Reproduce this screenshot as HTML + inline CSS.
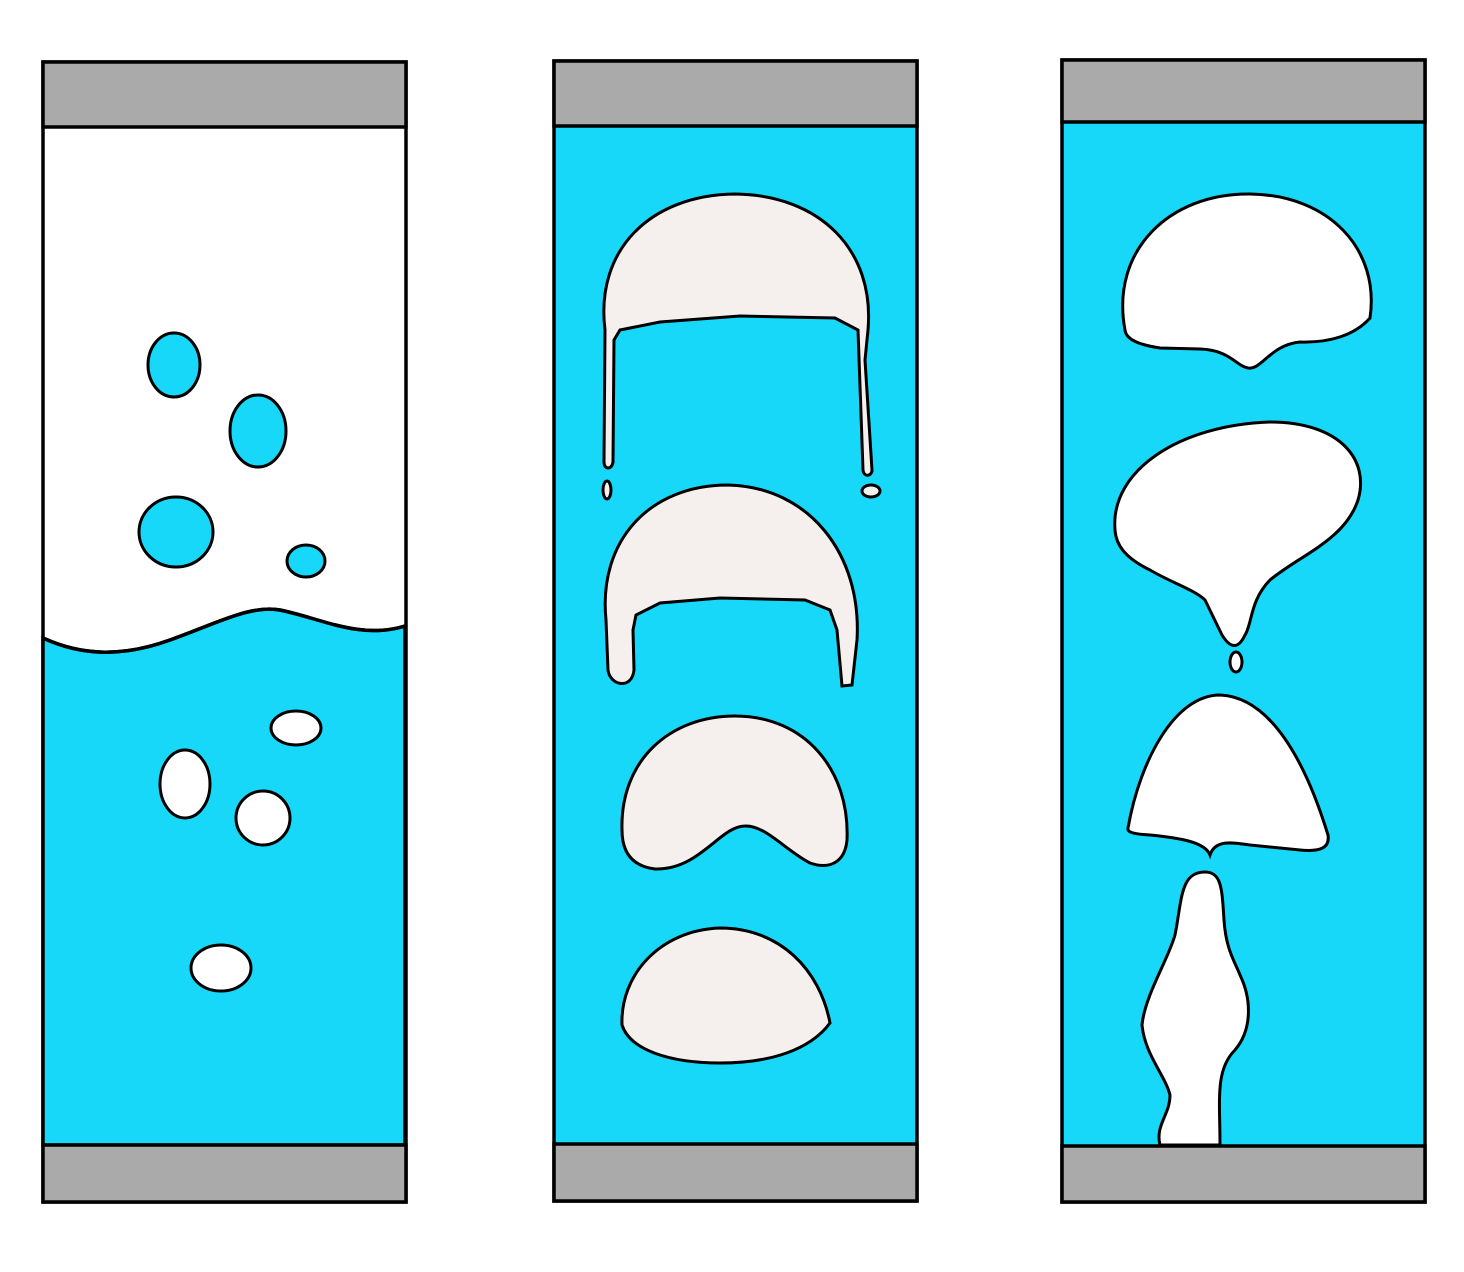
<!DOCTYPE html>
<html><head><meta charset="utf-8"><style>html,body{margin:0;padding:0;background:#fff}svg{display:block}</style></head>
<body>
<svg width="1464" height="1272" viewBox="0 0 1464 1272">
<g stroke="#000" stroke-width="3.5">
 <rect x="43" y="62" width="363" height="1140" fill="#fff"/>
 <path d="M43 638 C80 655 120 658 170 640 C220 622 250 605 280 610 C320 618 360 640 405 626 L405 1145 L43 1145 Z" fill="#18D8FA"/>
 <path d="M43 638 C80 655 120 658 170 640 C220 622 250 605 280 610 C320 618 360 640 405 626" fill="none"/>
 <rect x="43" y="62" width="363" height="65" fill="#aaa"/>
 <rect x="43" y="1145" width="363" height="57" fill="#aaa"/>
 <g fill="#18D8FA" stroke-width="3">
  <ellipse cx="174" cy="365" rx="26" ry="32"/>
  <ellipse cx="258" cy="431" rx="28" ry="36"/>
  <ellipse cx="176" cy="532" rx="37" ry="35"/>
  <ellipse cx="306" cy="561" rx="19" ry="16"/>
 </g>
 <g fill="#fff" stroke-width="3">
  <ellipse cx="296" cy="728" rx="25" ry="17"/>
  <ellipse cx="185" cy="784" rx="25" ry="34"/>
  <ellipse cx="263" cy="818" rx="27" ry="27"/>
  <ellipse cx="221" cy="968" rx="30" ry="23"/>
 </g>
</g>
<g stroke="#000" stroke-width="3.5">
 <rect x="554" y="61" width="363" height="1140" fill="#18D8FA"/>
 <rect x="554" y="61" width="363" height="65" fill="#aaa"/>
 <rect x="554" y="1144" width="363" height="57" fill="#aaa"/>
 <g fill="#F5F0EE" stroke-width="3">
  <path d="M605 330 C595 250 650 195 735 194 C820 195 875 250 868 330 L865 360 L872 470 C872 476 864 478 863 470 L858 330 L835 318 L740 316 L660 322 L620 330 L614 340 L613 462 C612 470 604 470 604 462 Z"/>
  <ellipse cx="607" cy="490" rx="4" ry="9"/>
  <ellipse cx="871" cy="491" rx="9" ry="6"/>
  <path d="M606 620 C598 540 650 485 728 485 C810 487 862 555 857 640 L852 685 L842 686 L837 630 L830 610 L805 600 L720 598 L660 603 L636 615 L633 630 L634 670 C632 690 610 686 608 670 Z"/>
  <path d="M622 830 C620 760 670 716 735 716 C805 716 850 770 847 840 C845 862 830 870 810 863 C785 850 765 825 745 826 C720 826 700 870 655 869 C630 866 622 850 622 830 Z"/>
  <path d="M622 1025 C620 975 660 930 720 928 C780 928 820 970 830 1023 C810 1050 770 1063 720 1063 C670 1063 630 1050 622 1025 Z"/>
 </g>
</g>
<g stroke="#000" stroke-width="3.5">
 <rect x="1062" y="60" width="363" height="1142" fill="#18D8FA"/>
 <rect x="1062" y="60" width="363" height="62" fill="#aaa"/>
 <rect x="1062" y="1146" width="363" height="56" fill="#aaa"/>
 <g fill="#fff" stroke-width="3">
  <path d="M1125 330 C1110 250 1170 193 1250 194 C1330 195 1380 250 1370 318 C1355 335 1330 343 1300 342 C1270 345 1262 370 1248 368 C1236 366 1230 350 1200 349 L1160 348 C1140 345 1126 340 1125 330 Z"/>
  <path d="M1115 530 C1110 470 1180 425 1270 422 C1340 422 1370 460 1358 500 C1345 540 1300 555 1270 580 C1250 600 1252 625 1245 635 C1238 650 1230 648 1222 635 L1205 600 C1195 590 1170 582 1150 570 C1125 558 1116 545 1115 530 Z"/>
  <ellipse cx="1236" cy="662" rx="6" ry="10"/>
  <path d="M1128 828 C1140 760 1175 695 1220 695 C1270 697 1305 760 1328 835 C1330 848 1320 852 1300 850 L1250 845 C1230 842 1215 840 1210 855 C1205 842 1180 838 1150 835 C1132 834 1127 832 1128 828 Z"/>
  <path d="M1160 1145 C1155 1125 1170 1115 1170 1095 C1165 1075 1145 1055 1142 1025 C1145 995 1168 960 1175 935 C1182 900 1180 872 1205 872 C1222 872 1222 890 1224 920 C1226 950 1235 962 1240 975 C1252 1000 1252 1030 1235 1050 C1215 1070 1220 1100 1220 1145 Z"/>
 </g>
</g>
</svg>
</body></html>
